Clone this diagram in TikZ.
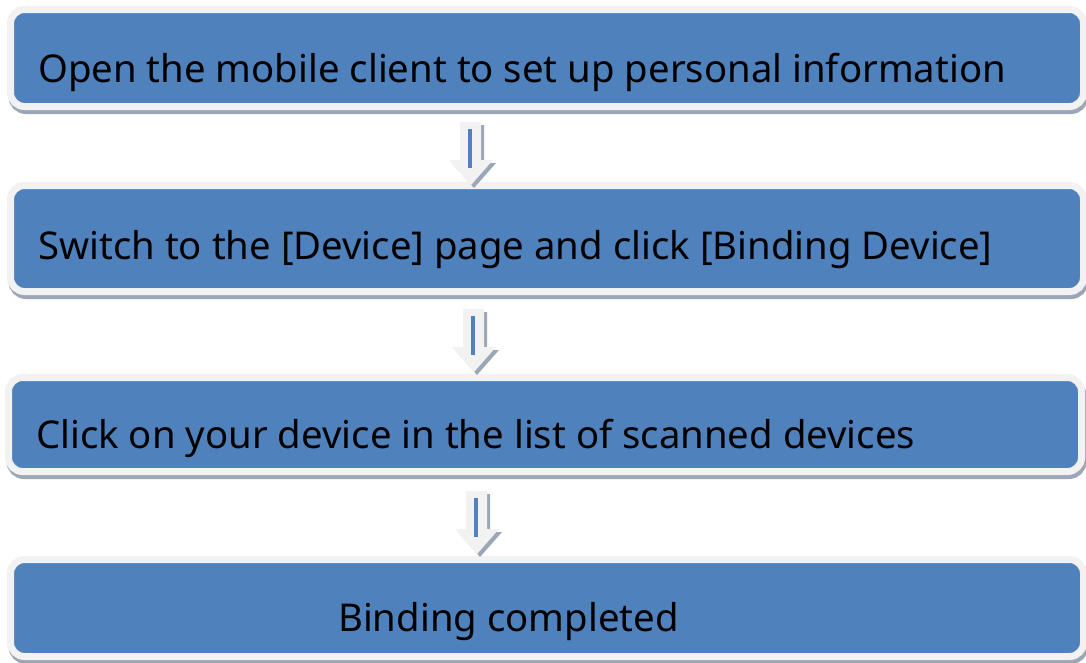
\documentclass[tikz,border=0pt]{standalone}
\usepackage{fontspec}
\setmainfont{Noto Sans}
\definecolor{boxblue}{HTML}{4F81BD}
\definecolor{boxrim}{HTML}{F2F2F2}
\definecolor{rimshadow}{HTML}{9BA7B7}
\tikzset{
  stepbox/.style={draw=boxrim, fill=boxblue, line width=7pt, rounded corners=14pt,
    inner sep=0pt, minimum width=1073pt,
    preaction={draw=rimshadow, fill=rimshadow, transform canvas={shift={(1.5pt,-4pt)}}}},
  steptext/.style={anchor=base west, inner sep=0pt, text=black,
    font=\fontsize{38.3}{45}\selectfont}
}
% block arrow, shaft top left at (#1,#2)
\newcommand{\flowdown}[2]{%
  \begin{scope}[shift={(#1,#2)}]
    \fill[rimshadow] (3,3) -- (24,3) -- (24,41) -- (36,41) -- (14,66) -- (-8,41) -- (3,41) -- cycle;
    \fill[boxrim] (0,0) -- (21,0) -- (21,38) -- (33,38) -- (11,63) -- (-11,38) -- (0,38) -- cycle;
    \draw[boxblue, line width=4pt] (10,7) -- (10,46);
  \end{scope}}

\begin{document}
\begin{tikzpicture}[x=1pt, y=-1pt]
  \useasboundingbox[fill=white] (0,0) rectangle (1086,662);

  \node[stepbox, minimum height=97pt] (setup) at (547,58) {};
  \node[stepbox, minimum height=106pt] (device) at (547,238.5) {};
  \node[stepbox, minimum height=94pt] (scan) at (545,424.5) {};
  \node[stepbox, minimum height=97pt] (done) at (547,608) {};

  \node[steptext] (setuptext) at (38,82) {Open the mobile client to set up personal information};
  \node[steptext] (devicetext) at (38,259) {Switch to the [Device] page and click [Binding Device]};
  \node[steptext] (scantext) at (36,448) {Click on your device in the list of scanned devices};
  \node[steptext] (donetext) at (338,631) {Binding completed};

  \flowdown{460}{122}
  \flowdown{463}{309}
  \flowdown{466}{491}
\end{tikzpicture}
\end{document}
